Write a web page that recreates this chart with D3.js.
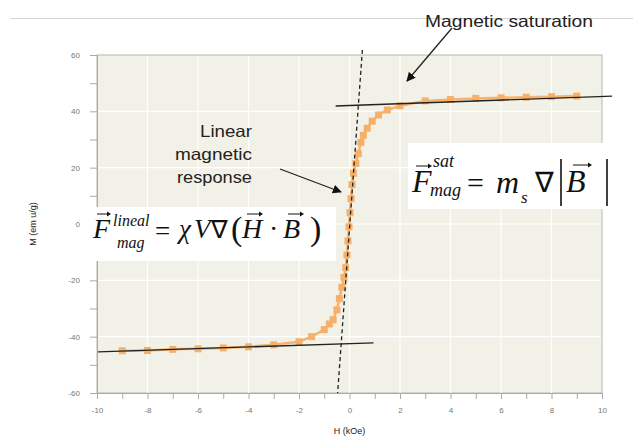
<!DOCTYPE html>
<html>
<head>
<meta charset="utf-8">
<script src="https://cdn.jsdelivr.net/npm/d3@7"></script>
<style>
  body { margin: 0; background: #fff; }
  svg { display: block; }
  .tick text { font-family: "Liberation Sans", Arial, sans-serif; fill: #777; }
  .serif { font-family: "Liberation Serif", "Times New Roman", serif; fill: #111; }
  .note { font-family: "Liberation Sans", Arial, sans-serif; fill: #222; }
</style>
</head>
<body>
<div id="chart"></div>
<script>
var width = 633;
var height = 439;

// magnetisation curve
var fieldH = [-9, -8, -7, -6, -5, -4, -3, -2, -1.5, -1, -0.8, -0.65, -0.5, -0.4, -0.3, -0.22, -0.15,
  -0.1, -0.06, -0.02, 0.02, 0.06, 0.1, 0.15, 0.25, 0.35, 0.45, 0.55, 0.7, 0.9, 1.15, 1.5, 2,
  3, 4, 5, 6, 7, 8, 9];
var magM = [-45, -44.9, -44.5, -44.3, -44, -43.6, -42.9, -41.8, -40, -37.5, -35.5, -34, -30.5, -26.5,
  -22.5, -19, -15.5, -11, -6, -1, 4, 9, 14, 18, 21.5, 25, 29, 31.5, 34, 36.5, 38.7, 40.5, 42,
  43.7, 44.2, 44.6, 44.8, 45, 45.2, 45.4];

// guide lines (data coords)
var upperSat = [[-0.55, 41.9], [10.4, 45.4]];
var lowerSat = [[-9.96, -45.4], [0.95, -42.2]];
var linearFit = [[0.51, 61.8], [-0.47, -60]];

var xTicks = d3.range(-10, 11, 1);
var yTicks = d3.range(-60, 61, 10);
var xDomain = [-10, 10];
var yDomain = [-60, 60];

var svg = d3.select('#chart')
  .append('svg')
  .attr('width', width)
  .attr('height', height);

var x = d3.scaleLinear().domain(xDomain).range([97, 602]);
var y = d3.scaleLinear().domain(yDomain).range([393, 55]);

// top slide rule
svg.append('line')
  .attr('x1', 10).attr('x2', width)
  .attr('y1', 18.5).attr('y2', 18.5)
  .attr('stroke', '#d4d4d4');

// plot background
svg.append('rect')
  .attr('x', x(-10)).attr('y', y(60))
  .attr('width', x(10) - x(-10)).attr('height', y(-60) - y(60))
  .attr('fill', '#f2f1e7')
  .attr('stroke', '#b5b5b0');

// grid
svg.append('g').selectAll('line')
  .data(d3.range(-8, 10, 2))
  .enter().append('line')
  .attr('x1', function(d) { return x(d); })
  .attr('x2', function(d) { return x(d); })
  .attr('y1', y(60) + 1).attr('y2', y(-60))
  .attr('stroke', '#fff').attr('stroke-width', 1.2);
svg.append('g').selectAll('line')
  .data(d3.range(-40, 60, 20))
  .enter().append('line')
  .attr('x1', x(-10)).attr('x2', x(10) - 1)
  .attr('y1', function(d) { return y(d); })
  .attr('y2', function(d) { return y(d); })
  .attr('stroke', '#fff').attr('stroke-width', 1.2);

// axes
var yAxis = d3.axisLeft(y)
  .tickValues(yTicks)
  .tickSize(7)
  .tickPadding(10)
  .tickFormat(function(d) { return d % 20 === 0 ? d : ''; });
var gy = svg.append('g')
  .attr('transform', 'translate(' + x(-10) + ',0)')
  .call(yAxis);
var xAxis = d3.axisBottom(x)
  .tickValues(xTicks)
  .tickSize(6)
  .tickPadding(8)
  .tickFormat(function(d) { return d % 2 === 0 ? d : ''; });
var gx = svg.append('g')
  .attr('transform', 'translate(0,' + y(-60) + ')')
  .call(xAxis);
[gx, gy].forEach(function(g) {
  g.select('.domain').attr('stroke', '#aaa');
  g.selectAll('.tick line').attr('stroke', '#aaa');
  g.selectAll('.tick text').attr('font-size', 8);
});

svg.append('text')
  .attr('class', 'note')
  .attr('x', x(0)).attr('y', 434)
  .attr('text-anchor', 'middle')
  .attr('font-size', 9).attr('fill', '#666')
  .text('H (kOe)');
svg.append('text')
  .attr('class', 'note')
  .attr('transform', 'translate(36,' + y(0) + ') rotate(-90)')
  .attr('text-anchor', 'middle')
  .attr('font-size', 9).attr('fill', '#666')
  .text('M (em u/g)');

// data
var pts = fieldH.map(function(h, i) { return [h, magM[i]]; });
var line = d3.line()
  .x(function(d) { return x(d[0]); })
  .y(function(d) { return y(d[1]); });
svg.append('path')
  .datum(pts)
  .attr('d', line)
  .attr('fill', 'none')
  .attr('stroke', '#f6b26e')
  .attr('stroke-width', 2.5);
svg.append('g').selectAll('rect')
  .data(pts)
  .enter().append('rect')
  .attr('x', function(d) { return x(d[0]) - 3.5; })
  .attr('y', function(d) { return y(d[1]) - 3.5; })
  .attr('width', 7).attr('height', 7)
  .attr('fill', '#f6b06a');

// fits
[upperSat, lowerSat].forEach(function(seg) {
  svg.append('path')
    .datum(seg)
    .attr('d', line)
    .attr('stroke', '#222')
    .attr('stroke-width', 1.3);
});
svg.append('path')
  .datum(linearFit)
  .attr('d', line)
  .attr('stroke', '#222')
  .attr('stroke-width', 1.3)
  .attr('stroke-dasharray', '4,3');

// arrows
var defs = svg.append('defs');
defs.append('marker')
  .attr('id', 'head')
  .attr('viewBox', '0 0 10 10')
  .attr('refX', 9).attr('refY', 5)
  .attr('markerWidth', 7).attr('markerHeight', 7)
  .attr('orient', 'auto')
  .append('path')
  .attr('d', 'M0,0L10,5L0,10z')
  .attr('fill', '#111');

svg.append('line')
  .attr('x1', 452).attr('y1', 28).attr('x2', 407).attr('y2', 81)
  .attr('stroke', '#222').attr('stroke-width', 1.3)
  .attr('marker-end', 'url(#head)');
svg.append('line')
  .attr('x1', 280).attr('y1', 169).attr('x2', 341).attr('y2', 192)
  .attr('stroke', '#222').attr('stroke-width', 1.3)
  .attr('marker-end', 'url(#head)');

svg.append('text')
  .attr('class', 'note')
  .attr('x', 425).attr('y', 27)
  .attr('font-size', 16.5)
  .attr('textLength', 168).attr('lengthAdjust', 'spacingAndGlyphs')
  .text('Magnetic saturation');

var noteLines = [['Linear', 137, 52], ['magnetic', 160, 77], ['response', 183, 75]];
noteLines.forEach(function(l) {
  svg.append('text')
    .attr('class', 'note')
    .attr('x', 252 - l[2]).attr('y', l[1])
    .attr('font-size', 16.5)
    .attr('textLength', l[2]).attr('lengthAdjust', 'spacingAndGlyphs')
    .text(l[0]);
});

// formula boxes
function vecArrow(g, x0, x1, yy) {
  g.append('line')
    .attr('x1', x0).attr('x2', x1 - 2).attr('y1', yy).attr('y2', yy)
    .attr('stroke', '#111').attr('stroke-width', 1);
  g.append('path')
    .attr('d', 'M' + (x1 - 4) + ',' + (yy - 2.5) + 'L' + x1 + ',' + yy + 'L' + (x1 - 4) + ',' + (yy + 2.5) + 'z')
    .attr('fill', '#111');
}
function put(g, s, xx, yy, size, italic) {
  g.append('text')
    .attr('class', 'serif')
    .attr('x', xx).attr('y', yy)
    .attr('font-size', size)
    .attr('font-style', italic ? 'italic' : 'normal')
    .text(s);
}

var b1 = svg.append('g').attr('transform', 'translate(90,207)');
b1.append('rect').attr('width', 246).attr('height', 54).attr('fill', '#fff');
put(b1, 'F', 3, 31, 28, true);
vecArrow(b1, 7, 21, 7);
put(b1, 'lineal', 23, 19, 16, true);
put(b1, 'mag', 27, 41, 16, true);
put(b1, '=', 65, 33, 27, false);
put(b1, 'χ', 89, 31, 27, true);
put(b1, 'V', 104, 31, 27, true);
put(b1, '∇', 121, 31, 25, false);
put(b1, '(', 141, 33, 34, false);
put(b1, 'H', 152, 31, 28, true);
vecArrow(b1, 157, 173, 7);
put(b1, '·', 179, 31, 28, false);
put(b1, 'B', 193, 31, 28, true);
vecArrow(b1, 198, 214, 7);
put(b1, ')', 220, 33, 34, false);

var b2 = svg.append('g').attr('transform', 'translate(408,143)');
b2.append('rect').attr('width', 205).attr('height', 66).attr('fill', '#fff');
put(b2, 'F', 4, 49, 32, true);
vecArrow(b2, 8, 24, 23);
put(b2, 'sat', 25, 24, 18, true);
put(b2, 'mag', 22, 53, 18, true);
put(b2, '=', 59, 50, 30, false);
put(b2, 'm', 88, 50, 32, true);
put(b2, 's', 113, 60, 17, true);
put(b2, '∇', 127, 49, 28, false);
b2.append('line').attr('x1', 153).attr('x2', 153).attr('y1', 16).attr('y2', 63)
  .attr('stroke', '#111').attr('stroke-width', 1.6);
put(b2, 'B', 158, 49, 32, true);
vecArrow(b2, 165, 184, 22);
b2.append('line').attr('x1', 199).attr('x2', 199).attr('y1', 16).attr('y2', 63)
  .attr('stroke', '#111').attr('stroke-width', 1.6);
</script>
</body>
</html>
